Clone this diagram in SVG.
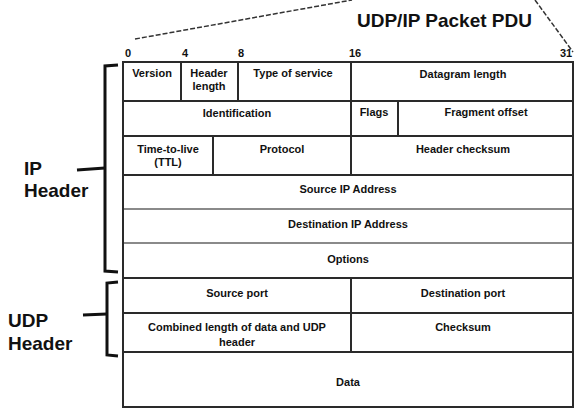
<svg xmlns="http://www.w3.org/2000/svg" width="574" height="408" viewBox="0 0 574 408">
<style>
.bg{fill:#ffffff}
.cell{fill:#ffffff;stroke:#2a2a2a;stroke-width:2}
.t{font-family:"Liberation Sans",Arial,sans-serif;font-size:11px;font-weight:bold;fill:#111;text-anchor:middle}
.bit{font-family:"Liberation Sans",Arial,sans-serif;font-size:11px;font-weight:bold;fill:#111;text-anchor:middle}
.big{font-family:"Liberation Sans",Arial,sans-serif;font-size:19px;font-weight:bold;fill:#111}
.br{fill:none;stroke:#111;stroke-width:3;stroke-linejoin:miter}
.dash{fill:none;stroke:#333;stroke-width:1.5;stroke-dasharray:5 2}
.grey{stroke:#8a8a8a;stroke-width:2}
</style>
<rect class="bg" x="0" y="0" width="574" height="408"/>
<text class="big" x="357" y="27">UDP/IP Packet PDU</text>
<g id="bits">
<text class="bit" x="128" y="57">0</text>
<text class="bit" x="185" y="57">4</text>
<text class="bit" x="241" y="57">8</text>
<text class="bit" x="355" y="57">16</text>
<text class="bit" x="566" y="57">31</text>
</g>
<g id="row1">
<g id="version"><rect class="cell" x="123" y="62" width="58" height="39"/><text class="t" x="152" y="77">Version</text></g>
<g id="header-length"><rect class="cell" x="181" y="62" width="57" height="39"/><text class="t" x="209" y="77">Header</text><text class="t" x="209" y="90">length</text></g>
<g id="tos"><rect class="cell" x="238" y="62" width="113" height="39"/><text class="t" x="293" y="77">Type of service</text></g>
<g id="datagram-length"><rect class="cell" x="351" y="62" width="222" height="39"/><text class="t" x="463" y="78">Datagram length</text></g>
</g>
<g id="row2">
<g id="identification"><rect class="cell" x="123" y="101" width="228" height="35"/><text class="t" x="237" y="117">Identification</text></g>
<g id="flags"><rect class="cell" x="351" y="101" width="47" height="35"/><text class="t" x="374" y="116">Flags</text></g>
<g id="fragment-offset"><rect class="cell" x="398" y="101" width="175" height="35"/><text class="t" x="486" y="116">Fragment offset</text></g>
</g>
<g id="row3">
<g id="ttl"><rect class="cell" x="123" y="136" width="90" height="39"/><text class="t" x="168" y="153">Time-to-live</text><text class="t" x="168" y="166">(TTL)</text></g>
<g id="protocol"><rect class="cell" x="213" y="136" width="138" height="39"/><text class="t" x="282" y="153">Protocol</text></g>
<g id="header-checksum"><rect class="cell" x="351" y="136" width="222" height="39"/><text class="t" x="463" y="153">Header checksum</text></g>
</g>
<g id="source-ip"><rect class="cell" x="123" y="175" width="450" height="34"/><text class="t" x="348" y="193">Source IP Address</text></g>
<g id="dest-ip"><rect class="cell" x="123" y="209" width="450" height="34"/><text class="t" x="348" y="228">Destination IP Address</text></g>
<g id="options"><rect class="cell" x="123" y="243" width="450" height="35"/><text class="t" x="348" y="263">Options</text></g>
<line class="grey" x1="124" y1="209" x2="572" y2="209"/>
<line class="grey" x1="124" y1="243" x2="572" y2="243"/>
<g id="row7">
<g id="source-port"><rect class="cell" x="123" y="278" width="228" height="35"/><text class="t" x="237" y="297">Source port</text></g>
<g id="dest-port"><rect class="cell" x="351" y="278" width="222" height="35"/><text class="t" x="463" y="297">Destination port</text></g>
</g>
<g id="row8">
<g id="udp-length"><rect class="cell" x="123" y="313" width="228" height="39"/><text class="t" x="237" y="331">Combined length of data and UDP</text><text class="t" x="237" y="346">header</text></g>
<g id="checksum"><rect class="cell" x="351" y="313" width="222" height="39"/><text class="t" x="463" y="331">Checksum</text></g>
</g>
<g id="data"><rect class="cell" x="123" y="352" width="450" height="55"/><text class="t" x="348" y="386">Data</text></g>
<g id="ip-header-label"><text class="big" x="24" y="175">IP</text><text class="big" x="24" y="197">Header</text></g>
<g id="udp-header-label"><text class="big" x="8" y="327">UDP</text><text class="big" x="8" y="350">Header</text></g>
<g id="connectors">
<path class="dash" d="M135,39 L352,0"/>
<path class="dash" d="M535,0 L573,52"/>
<path class="br" d="M118,65 L105,66 L105,271 L118,272"/>
<path class="br" d="M77,170 L105,168"/>
<path class="br" d="M118,282 L107,283 L107,355 L118,356"/>
<path class="br" d="M83,315 L107,314"/>
</g>
</svg>
